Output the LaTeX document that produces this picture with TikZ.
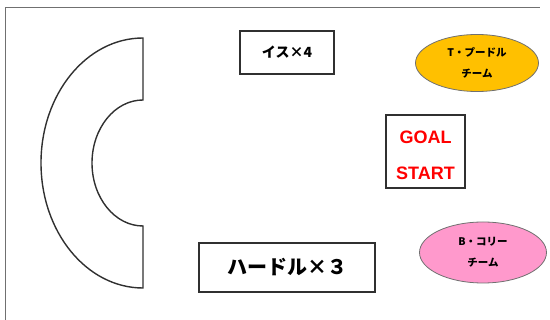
\documentclass[tikz,border=0pt]{standalone}
\usepackage{fontspec}
\setmainfont{Liberation Sans}
\newfontfamily\jp{Noto Sans CJK JP}
\usetikzlibrary{shapes.geometric}
\definecolor{frameg}{HTML}{707070}
\definecolor{boxg}{HTML}{303030}
\definecolor{orangefill}{HTML}{FFC000}
\definecolor{pinkfill}{HTML}{FF99CC}
\tikzset{
  labelbox/.style={draw=boxg, line width=1.5pt, inner sep=0pt},
  team/.style={ellipse, draw=frameg, line width=0.8pt, inner sep=0pt, align=center,
    font=\jp\bfseries\fontsize{10.5}{21}\selectfont},
  goaltext/.style={text=red, inner sep=0pt, font=\bfseries\fontsize{18}{20}\selectfont},
}
\begin{document}
\begin{tikzpicture}[x=1pt,y=-1pt]
\useasboundingbox (0,0) rectangle (550,320);
% frame
\draw[frameg, line width=1pt] (5,320) -- (5,8) -- (540,8);
% C-shaped track
\draw[boxg, line width=1.4pt]
  (143,38) arc[start angle=90, end angle=270, x radius=102, y radius=-125]
  -- (143,226) arc[start angle=270, end angle=90, x radius=51, y radius=-63]
  -- cycle;
% boxes
\node[labelbox, minimum width=94pt, minimum height=43pt, font=\jp\bfseries\fontsize{14}{16}\selectfont] (chairs) at (287,52.5) {イス×4};
\node[labelbox, minimum width=79pt, minimum height=73pt] (goal) at (425.5,151.5) {};
\node[goaltext] (goalword) at (425.5,137.5) {GOAL};
\node[goaltext] (startword) at (425.5,173) {START};
\node[labelbox, minimum width=176pt, minimum height=49pt, font=\jp\bfseries\fontsize{20}{22}\selectfont] (hurdle) at (287,267.5) {ハードル×３};
% team ellipses
\node[team, fill=orangefill, minimum width=123pt, minimum height=57pt] (tteam) at (477,63) {T・プードル\\チーム};
\node[team, fill=pinkfill, minimum width=127pt, minimum height=61pt] (bteam) at (483,252.5) {B・コリー\\チーム};
\end{tikzpicture}
\end{document}
